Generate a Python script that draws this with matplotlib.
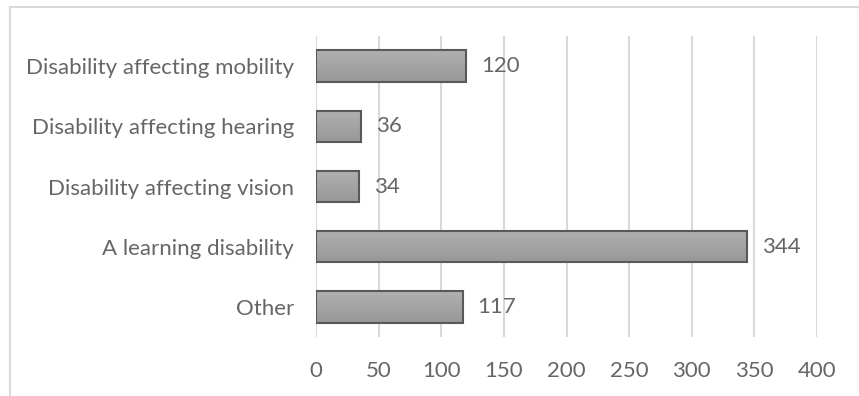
import numpy as np
import matplotlib.pyplot as plt
from matplotlib.colors import LinearSegmentedColormap
from matplotlib.lines import Line2D

categories = ['Other', 'A learning disability', 'Disability affecting vision',
              'Disability affecting hearing', 'Disability affecting mobility']
counts = [117, 344, 34, 36, 120]
xticks = [0, 50, 100, 150, 200, 250, 300, 350, 400]

text_col = '#666666'
grid_col = '#d9d9d9'
plt.rcParams['font.family'] = ['Lato', 'DejaVu Sans']

fig = plt.figure(figsize=(8.59, 3.96), dpi=100)
ax = fig.add_axes([0.3679, 0.149, 0.5832, 0.760])

# light frame round the chart area (top and left only)
fig.add_artist(Line2D([10 / 859, 1], [1 - 7 / 396, 1 - 7 / 396], color=grid_col, lw=1.5))
fig.add_artist(Line2D([10 / 859, 10 / 859], [0, 1 - 7 / 396], color=grid_col, lw=1.5))

y = np.arange(len(categories))
h = 0.52
bars = ax.barh(y, counts, height=h, color='none', edgecolor='#595959', linewidth=1.5, zorder=3)

# vertical grey gradient inside each bar
cmap = LinearSegmentedColormap.from_list('bar', ['#989898', '#b0b0b0'])
grad = np.linspace(0, 1, 64).reshape(-1, 1)
for b in bars:
    x0, y0 = b.get_x(), b.get_y()
    im = ax.imshow(grad, cmap=cmap, aspect='auto', origin='lower',
                   extent=[x0, x0 + b.get_width(), y0, y0 + b.get_height()], zorder=2)
    im.set_clip_path(b)

for yi, v in zip(y, counts):
    ax.text(v + 12, yi, str(v), va='center', ha='left', fontsize=16, color=text_col)

ax.set_xlim(0, 400)
ax.set_ylim(-0.5, len(categories) - 0.5)
ax.set_xticks(xticks)
ax.set_yticks(y)
ax.set_yticklabels(categories)
ax.tick_params(axis='both', length=0, labelsize=16, labelcolor=text_col)
ax.tick_params(axis='y', pad=16)
ax.tick_params(axis='x', pad=17)
ax.grid(axis='x', color=grid_col, lw=1.5, zorder=0)
ax.set_axisbelow(True)
for s in ax.spines.values():
    s.set_visible(False)

fig.savefig('out.png', dpi=100)
